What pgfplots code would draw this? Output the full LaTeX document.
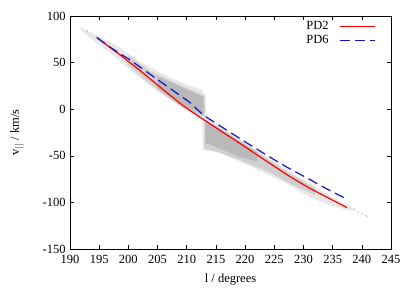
\documentclass[border=0pt]{standalone}
\usepackage{fontspec}
\setmainfont{Liberation Serif}
\usepackage{pgfplots}
\pgfplotsset{compat=1.18}
\definecolor{pdred}{RGB}{255,0,0}
\definecolor{pdblue}{RGB}{20,20,200}
\begin{document}
\fontsize{12.5}{15}\selectfont
\begin{tikzpicture}
\useasboundingbox (-70pt,-42pt) rectangle (345pt,249pt);
\begin{axis}[
  at={(0pt,0pt)}, anchor=south west,
  scale only axis, width=321pt, height=233pt,
  xmin=190, xmax=245, ymin=-150, ymax=100,
  xtick={190,195,...,245}, ytick={-150,-100,...,100},
  tick align=inside, major tick length=4pt,
  tick style={black, line width=0.5pt},
  axis line style={line width=0.6pt},
  /pgf/number format/assume math mode=true,
  ticklabel style={font=\fontsize{12.5}{15}\selectfont},
  xticklabel style={yshift=-2pt},
  every axis y label/.style={at={(axis description cs:-0.165,0.5)}, rotate=90, anchor=center},
  every axis x label/.style={at={(axis description cs:0.5,0)}, anchor=center, yshift=-31pt},
  xlabel={l / degrees},
  ylabel={v$_{||}$ / km/s},
  legend plot pos=right,
  legend cell align=right,
  legend style={draw=none, fill=none, at={(1,1)}, anchor=north east, xshift=-12pt, yshift=-1pt,
    font=\fontsize{12.5}{15}\selectfont, row sep=0pt},
  legend image code/.code={\path (0pt,0pt); \draw[#1] (9pt,0pt) -- (44pt,0pt);},
]
% outer sparse cloud
\addplot[forget plot, draw=none, fill=gray!18] coordinates {
(192,87) (195,78) (198.6,66) (201,55) (203.7,45) (207.1,34) (210.6,25) (212.6,21) (213.3,13) (213.3,-8)
(215,-16) (218,-28) (221,-40) (224,-52) (228,-68) (232,-83) (236,-98) (239,-107)
(238,-109) (234,-102) (231,-94) (228,-83) (226,-76) (223.7,-70) (220.8,-61) (218,-53) (215.1,-46) (212.8,-44)
(212.6,-10) (209.4,1) (206,15) (203.7,25) (200,44) (197,60) (194,74) (192,84)
} -- cycle;
% middle density
\addplot[forget plot, draw=none, fill=gray!38] coordinates {
(200,58) (203.7,41) (207,31) (210.6,21) (213,15) (213.1,-8) (210,-1) (206,16) (203,31) (200,47)
} -- cycle;
\addplot[forget plot, draw=none, fill=gray!38] coordinates {
(213.1,-11) (216,-21) (220,-37) (224,-54) (228,-70) (232,-85) (232,-92) (228,-81) (224,-67) (220,-57) (216,-47) (213,-42)
} -- cycle;
% dense core
\addplot[forget plot, draw=none, fill=gray!55] coordinates {
(205,35) (208,27) (211,18) (212.9,13) (212.9,-5) (210,2) (207,14) (205,22)
} -- cycle;
\addplot[forget plot, draw=none, fill=gray!55] coordinates {
(213.2,-14) (216,-23) (219,-35) (222,-46) (222,-56) (219,-51) (216,-43) (213.2,-36)
} -- cycle;
% sparse tail points
\addplot[forget plot, only marks, mark=*, mark size=0.4pt, gray!50] coordinates {
(238.8,-108) (239.4,-110) (240,-112) (240.6,-114) (241,-115) (192,87) (193,84)
};
\addplot[pdred, line width=1.2pt] coordinates {
(194.6,76.7) (198.6,58.2) (202,41.5) (205,26) (208.8,6.5) (210.6,-1.5) (212.6,-10) (216,-24)
(219.1,-36.6) (223,-53) (227.7,-72.4) (231.1,-84.9) (234.5,-96) (237.5,-105.7)
};
\addlegendentry{PD2}
\addplot[pdblue, line width=1.2pt, dash pattern=on 10pt off 5pt] coordinates {
(194.6,77) (197,66) (200.3,52.8) (204.3,34.9) (208,18.5) (210.5,7.5) (212.8,-6.2) (216,-19)
(220,-35) (224,-50.5) (227.1,-62) (231.1,-75.5) (234,-85.5) (237.4,-96.4)
};
\addlegendentry{PD6}
\end{axis}
\end{tikzpicture}
\end{document}
